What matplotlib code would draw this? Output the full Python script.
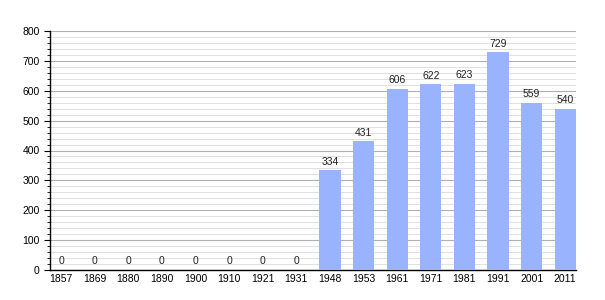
import matplotlib
matplotlib.use('Agg')
import matplotlib.pyplot as plt
from matplotlib.ticker import MultipleLocator

plt.rcParams['font.family'] = ['Liberation Sans', 'DejaVu Sans']

# Données de population
years = ['1857', '1869', '1880', '1890', '1900', '1910', '1921', '1931',
         '1948', '1953', '1961', '1971', '1981', '1991', '2001', '2011']
population = [0, 0, 0, 0, 0, 0, 0, 0, 334, 431, 606, 622, 623, 729, 559, 540]

fig = plt.figure(figsize=(6.05, 3.0), dpi=100)
ax = fig.add_axes([50 / 605, 30 / 300, 526 / 605, 239 / 300])

x = range(len(years))
bars = ax.bar(x, population, width=0.63, color='#99b3ff', zorder=3)

for xi, v in zip(x, population):
    ax.text(xi, v + 12, str(v), ha='center', va='bottom', fontsize=7.5, color='#222222', zorder=4)

ax.set_xlim(-0.33, 15.32)
ax.set_ylim(0, 800)
ax.set_xticks(list(x))
ax.set_xticklabels(years, fontsize=7.5)
ax.yaxis.set_major_locator(MultipleLocator(100))
ax.yaxis.set_minor_locator(MultipleLocator(20))
ax.tick_params(axis='y', labelsize=7.5, length=4, width=0.8)
ax.tick_params(axis='y', which='minor', length=2, width=0.6)
ax.tick_params(axis='x', length=0, pad=3)

ax.grid(True, axis='y', which='major', color='#b0b0b0', linewidth=0.8, zorder=1)
ax.grid(True, axis='y', which='minor', color='#e0e0e0', linewidth=0.7, zorder=1)

for side in ['top', 'right']:
    ax.spines[side].set_visible(False)
ax.spines['left'].set_linewidth(1.0)
ax.spines['bottom'].set_linewidth(1.0)

fig.savefig('out.png', dpi=100)
